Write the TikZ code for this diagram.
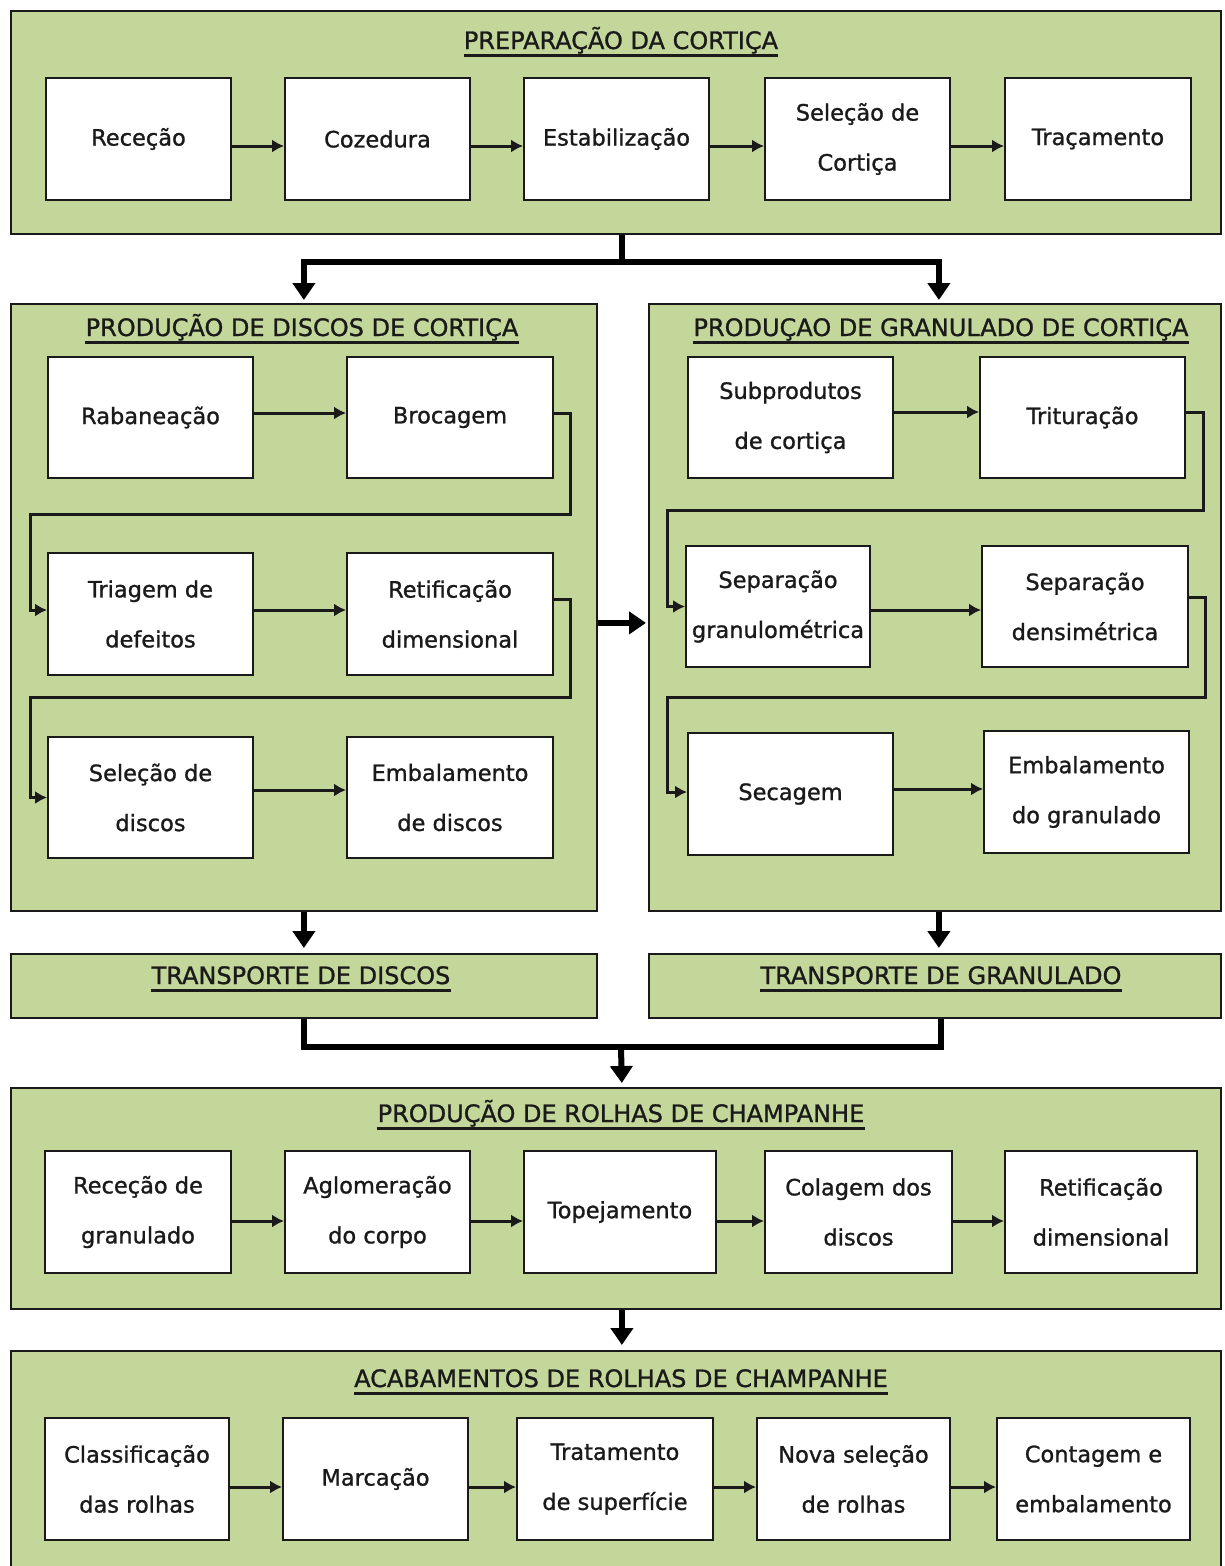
\documentclass[tikz,border=0pt]{standalone}
\usepackage{fontspec}
\setmainfont{DejaVu Sans}[BoldFont={DejaVu Sans}, BoldFeatures={FakeBold=1.1}]
\usetikzlibrary{arrows.meta}
\definecolor{panelgreen}{HTML}{C4D79B}
\definecolor{ink}{HTML}{1A1A1A}
\newcommand\bx[6]{\node[box, minimum width={(#4)-(#2)}, minimum height={(#5)-(#3)}] (#1) at ({((#2)+(#4))/2},{((#3)+(#5))/2}) {#6};}
\newcommand\pnl[5]{\node[panel, minimum width={#4}, minimum height={#5}] (#1) at (#2,#3) {};}
\newcommand\ttlu[4]{\node[ttl, anchor=base] (#1) at (#2,#3) {#4};
  \draw[uline] ([yshift=-6pt]#1.base west) -- ([yshift=-6pt]#1.base east);}
\begin{document}
\begin{tikzpicture}[x=1pt,y=-1pt,
  panel/.style={draw=ink, line width=1.8pt, fill=panelgreen, rectangle, inner sep=0pt, anchor=north west},
  box/.style={draw=ink, line width=1.8pt, fill=white, rectangle, inner sep=0pt, align=center,
    font=\bfseries\fontsize{22.5}{50}\selectfont, text=ink},
  ttl/.style={inner sep=0pt, font=\bfseries\fontsize{24}{28}\selectfont, text=ink},
  uline/.style={draw=ink, line width=3pt},
  flow/.style={draw=ink, line width=3pt, -{Latex[length=12pt,width=13pt]}},
  big/.style={draw=black, line width=6pt, -{Triangle[length=17pt,width=22pt]}},
  bigline/.style={draw=black, line width=6pt}
]
\useasboundingbox (0,0) rectangle (1225,1566);
\fill[white] (0,0) rectangle (1225,1566);

% ---------- panels ----------
\pnl{p1}{10}{10}{1210}{223}
\pnl{pL}{10}{303}{586}{607}
\pnl{pR}{648}{303}{572}{607}
\pnl{tL}{10}{953}{586}{64}
\pnl{tR}{648}{953}{572}{64}
\pnl{pP}{10}{1087}{1210}{221}
\pnl{pA}{10}{1350}{1210}{220}

% ---------- titles ----------
\ttlu{t1}{621}{49}{PREPARAÇÃO DA CORTIÇA}
\ttlu{tl}{302}{336}{PRODUÇÃO DE DISCOS DE CORTIÇA}
\ttlu{tr}{941}{336}{PRODUÇAO DE GRANULADO DE CORTIÇA}
\ttlu{ttl1}{301}{984}{TRANSPORTE DE DISCOS}
\ttlu{ttr1}{941}{984}{TRANSPORTE DE GRANULADO}
\ttlu{tp}{621}{1122}{PRODUÇÃO DE ROLHAS DE CHAMPANHE}
\ttlu{ta}{621}{1387}{ACABAMENTOS DE ROLHAS DE CHAMPANHE}

% ---------- top row ----------
\bx{b1}{46}{78}{231}{200}{Receção}
\bx{b2}{285}{78}{470}{200}{Cozedura}
\bx{b3}{524}{78}{709}{200}{Estabilização}
\bx{b4}{765}{78}{950}{200}{Seleção de\\Cortiça}
\bx{b5}{1005}{78}{1191}{200}{Traçamento}
\foreach \a/\b in {b1/b2,b2/b3,b3/b4,b4/b5}
  \draw[flow] ([yshift=-7pt]\a.east) -- ([yshift=-7pt]\b.west);

% ---------- discos ----------
\bx{d1}{48}{357}{253}{478}{Rabaneação}
\bx{d2}{347}{357}{553}{478}{Brocagem}
\bx{d3}{48}{553}{253}{675}{Triagem de\\defeitos}
\bx{d4}{347}{553}{553}{675}{Retificação\\dimensional}
\bx{d5}{48}{737}{253}{858}{Seleção de\\discos}
\bx{d6}{347}{737}{553}{858}{Embalamento\\de discos}
\draw[flow] ([yshift=4.5pt]d1.east) -- ([yshift=4.5pt]d2.west);
\draw[flow] ([yshift=4pt]d3.east) -- ([yshift=4pt]d4.west);
\draw[flow] ([yshift=7.5pt]d5.east) -- ([yshift=7.5pt]d6.west);
\draw[flow] ([yshift=4.5pt]d2.east) -- (570,413) -- (570,514) -- (30,514) -- (30,610) -- ([yshift=4pt]d3.west);
\draw[flow] ([yshift=15pt]d4.east) -- (570,599) -- (570,697) -- (30,697) -- (30,797.5) -- (d5.west);

% ---------- granulado ----------
\bx{g1}{688}{357}{893}{478}{Subprodutos\\de cortiça}
\bx{g2}{980}{357}{1185}{478}{Trituração}
\bx{g3}{686}{546}{870}{667}{Separação\\granulométrica}
\bx{g4}{982}{546}{1188}{667}{Separação\\densimétrica}
\bx{g5}{688}{733}{893}{855}{Secagem}
\bx{g6}{984}{731}{1189}{853}{Embalamento\\do granulado}
\draw[flow] ([yshift=5.5pt]g1.east) -- ([yshift=5.5pt]g2.west);
\draw[flow] ([yshift=-3.5pt]g3.east) -- ([yshift=-3.5pt]g4.west);
\draw[flow] ([yshift=5pt]g5.east) -- ([yshift=3pt]g6.west);
\draw[flow] ([yshift=5.5pt]g2.east) -- (1203,412) -- (1203,510) -- (667,510) -- (667,606.5) -- (g3.west);
\draw[flow] ([yshift=9.5pt]g4.east) -- (1205,597) -- (1205,697) -- (667,697) -- (667,792) -- ([yshift=2pt]g5.west);

% ---------- rolhas ----------
\bx{r1}{45}{1151}{231}{1273}{Receção de\\granulado}
\bx{r2}{285}{1151}{470}{1273}{Aglomeração\\do corpo}
\bx{r3}{524}{1151}{716}{1273}{Topejamento}
\bx{r4}{765}{1151}{952}{1273}{Colagem dos\\discos}
\bx{r5}{1005}{1151}{1197}{1273}{Retificação\\dimensional}
\foreach \a/\b in {r1/r2,r2/r3,r3/r4,r4/r5}
  \draw[flow] ([yshift=-9pt]\a.east) -- ([yshift=-9pt]\b.west);

% ---------- acabamentos ----------
\bx{a1}{45}{1418}{229}{1540}{Classificação\\das rolhas}
\bx{a2}{283}{1418}{468}{1540}{Marcação}
\bx{a3}{517}{1418}{713}{1540}{Tratamento\\de superfície}
\bx{a4}{757}{1418}{950}{1540}{Nova seleção\\de rolhas}
\bx{a5}{997}{1418}{1190}{1540}{Contagem e\\embalamento}
\foreach \a/\b in {a1/a2,a2/a3,a3/a4,a4/a5}
  \draw[flow] ([yshift=-8pt]\a.east) -- ([yshift=-8pt]\b.west);

% ---------- thick connectors ----------
\draw[big, shorten >=3pt] ([xshift=6pt]p1.south) -- ++(0,27) -| (pL.north);
\draw[big, shorten >=3pt] ([xshift=6pt]p1.south) -- ++(0,27) -| ([xshift=4pt]pR.north);
\draw[big, shorten >=2pt] ([yshift=-15.5pt]pL.east) -- ([yshift=-15.5pt]pR.west);
\draw[big, shorten >=5pt] (pL.south) -- (tL.north);
\draw[big, shorten >=5pt] ([xshift=4pt]pR.south) -- ([xshift=4pt]tR.north);
\coordinate (m) at (621,1047);
\draw[bigline] (tL.south) |- (m) -| ([xshift=6pt]tR.south);
\draw[big, shorten >=4pt] (m) -- ([xshift=6pt]pP.north);
\draw[big, shorten >=5pt] ([xshift=6pt]pP.south) -- ([xshift=6pt]pA.north);
\end{tikzpicture}
\end{document}
